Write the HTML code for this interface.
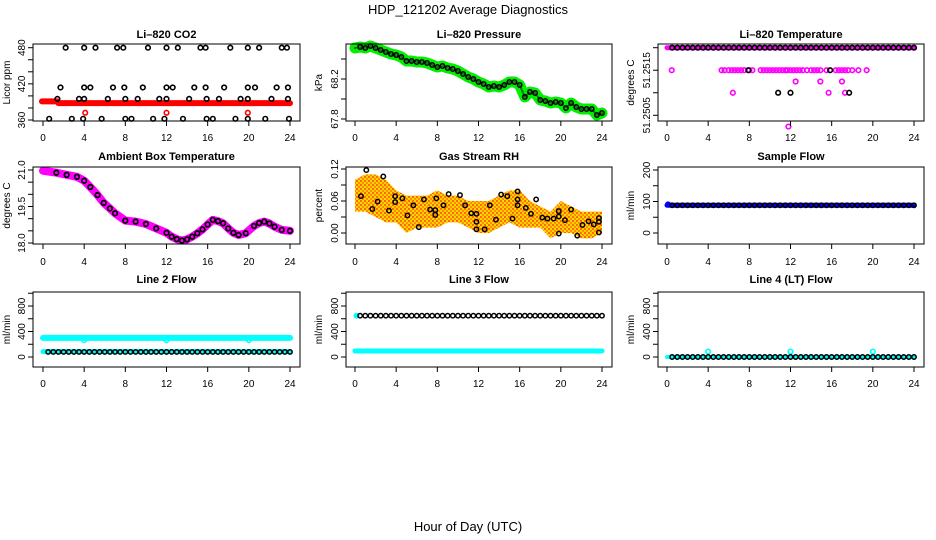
<!DOCTYPE html>
<html><head><meta charset="utf-8">
<style>
html,body{margin:0;padding:0;background:#fff;}
svg{display:block;font-family:"Liberation Sans",Arial,sans-serif;}
.tk{font-size:10px;fill:#000;}
.ttl{font-size:11px;font-weight:bold;fill:#000;}
</style></head>
<body>
<svg id="chart" width="936" height="540" viewBox="0 0 936 540" xmlns="http://www.w3.org/2000/svg">
<rect width="936" height="540" fill="#fff"/>
<text x="468" y="14" text-anchor="middle" font-size="13">HDP_121202  Average Diagnostics</text>
<text x="468" y="531" text-anchor="middle" font-size="13">Hour of Day (UTC)</text>
</svg>
<script>
// ---------- data ----------
var circleHours = [0.5,1,1.5,2,2.5,3,3.5,4,4.5,5,5.5,6,6.5,7,7.5,8,8.5,9,9.5,10,10.5,11,11.5,12,12.5,13,13.5,14,14.5,15,15.5,16,16.5,17,17.5,18,18.5,19,19.5,20,20.5,21,21.5,22,22.5,23,23.5,24];
var fullSpan = [0,24];

// CO2
var co2TopHours = [2.2,4.0,5.1,7.2,7.8,10.2,12.0,13.1,15.3,15.8,18.2,19.9,21.0,23.2,23.7];
var co2HighHours = [1.7,4.0,4.6,6.8,7.9,9.7,12.0,12.6,14.7,15.8,17.6,19.9,20.6,22.7,23.8];
var co2MidHours = [1.4,3.5,4.0,6.3,8.0,9.2,11.3,12.0,14.2,15.9,17.1,19.2,19.9,22.2,23.8];
var co2LowHours = [0.6,2.8,3.9,5.7,8.0,8.6,10.7,11.8,13.6,15.9,16.5,18.7,19.9,21.6,23.9];
var co2Levels = [480,414,395,362];
var co2RedBandHours = [-0.1,1.4,1.5,24];
var co2RedBandValues = [391,391,388,388];
var co2RedDotHours = [4.1,12.0,19.9];
var co2RedDotValue = 372;

// Pressure
var presHours = [0,0.5,1,1.5,2,2.5,3,3.5,4,4.5,5,5.5,6,6.5,7,7.5,8,8.5,9,9.5,10,10.5,11,11.5,12,12.5,13,13.5,14,14.5,15,15.5,16,16.5,17,17.5,18,18.5,19,19.5,20,20.5,21,21.5,22,22.5,23,23.5,24];
var presValues = [68.51,68.52,68.51,68.53,68.51,68.49,68.47,68.45,68.44,68.42,68.38,68.38,68.37,68.37,68.36,68.34,68.32,68.33,68.31,68.30,68.28,68.25,68.22,68.20,68.17,68.15,68.12,68.13,68.12,68.14,68.17,68.17,68.14,68.02,68.07,68.06,67.99,67.98,67.96,67.97,67.96,67.91,67.96,67.92,67.90,67.90,67.90,67.84,67.86];

// Li-820 temperature
var ltTopValue = 51.252;
var ltMagHours = [0.46,5.3,5.6,5.99,6.3,6.6,6.9,7.2,7.5,8.0,8.3,9.1,9.4,9.7,10.0,10.3,10.6,10.9,11.2,11.5,11.7,12.0,12.3,12.6,12.9,13.2,13.6,14.0,14.3,14.6,14.9,15.5,16.4,16.7,17.0,17.3,17.6,18.0,18.6,19.4,12.5,14.9,17.0,6.4,15.7,17.3,11.8];
var ltMagValues = [51.2515,51.2515,51.2515,51.2515,51.2515,51.2515,51.2515,51.2515,51.2515,51.2515,51.2515,51.2515,51.2515,51.2515,51.2515,51.2515,51.2515,51.2515,51.2515,51.2515,51.2515,51.2515,51.2515,51.2515,51.2515,51.2515,51.2515,51.2515,51.2515,51.2515,51.2515,51.2515,51.2515,51.2515,51.2515,51.2515,51.2515,51.2515,51.2515,51.2515,51.25125,51.25125,51.25125,51.251,51.251,51.251,51.25025];
var ltBlackHours = [7.9,15.85,10.8,12.0,17.7];
var ltBlackValues = [51.2515,51.2515,51.251,51.251,51.251];

// Ambient box temperature
var ambHours = [0,1.3,2.3,3.3,4,4.6,5.3,5.9,6.5,7,8,9,10,11,12,12.5,13,13.5,14,14.5,15,15.5,16,16.5,17,17.5,18,18.5,19,19.7,20.5,21,21.5,22,22.5,23.2,24];
var ambValues = [20.97,20.89,20.8,20.72,20.56,20.3,19.97,19.65,19.42,19.22,18.92,18.88,18.78,18.6,18.42,18.26,18.16,18.1,18.15,18.26,18.4,18.56,18.76,18.95,18.9,18.81,18.6,18.42,18.33,18.4,18.7,18.82,18.88,18.8,18.67,18.54,18.5];

// Gas stream RH
var rhBandHours = [0,1,2,3,4,5,6,7,8,9,10,11,12,13,14,15,16,17,18,19,20,21,22,23,24];
var rhUpper = [0.10,0.11,0.11,0.10,0.08,0.07,0.07,0.07,0.08,0.07,0.07,0.06,0.06,0.06,0.07,0.08,0.08,0.06,0.05,0.04,0.06,0.05,0.04,0.04,0.04];
var rhLower = [0.04,0.04,0.03,0.02,0.02,0.00,0.01,0.01,0.01,0.02,0.02,0.01,0.00,0.00,0.01,0.02,0.01,0.01,0.01,-0.01,0.00,0.00,-0.01,-0.01,0.00];
var rhDotHours = [0.58,1.1,1.68,2.2,2.75,3.3,3.9,3.9,4.6,5.1,5.67,6.2,6.7,7.3,7.8,7.8,7.9,8.6,9.1,10.2,10.7,11.3,11.8,11.8,11.8,12.6,13.1,13.7,14.2,14.8,15.3,15.8,15.8,15.8,16.6,17.1,17.6,18.2,18.7,19.3,19.8,19.8,19.8,20.4,21.0,21.6,22.1,22.7,23.2,23.7,23.7,23.7];
var rhDotValues = [0.069,0.118,0.045,0.059,0.106,0.042,0.069,0.058,0.065,0.033,0.052,0.011,0.063,0.044,0.043,0.034,0.065,0.052,0.073,0.071,0.052,0.037,0.036,0.021,0.007,0.007,0.052,0.025,0.072,0.069,0.027,0.078,0.063,0.052,0.047,0.036,0.063,0.029,0.027,0.027,0.041,0.031,-0.001,0.024,0.044,-0.005,0.015,0.022,0.016,0.028,0.021,0.001];

// Flows
var sampleFlowValue = 88;
var sampleFlowStart = 91;
var line2Upper = 300;
var line2DipHours = [4,12,20];
var line2DipValue = 265;
var line2Lower = 85;
var line3Black = 648;
var line3Cyan = 95;
var line4Base = 0;
var line4SpikeHours = [4,12,20];
var line4SpikeValue = 85;

// ---------- rendering ----------
var NS = 'http://www.w3.org/2000/svg';
var svg = document.getElementById('chart');
var cols = [{l:33,r:300,h0:43,h24:290,lab:10},{l:346,r:612,h0:355,h24:602,lab:322},{l:658,r:924,h0:667,h24:914,lab:634}];
var rows = [{t:44,b:121,title:38,xl:141},{t:167,b:244,title:160,xl:265},{t:292,b:367,title:283,xl:387}];
function mk(tag, attrs, parent){ var e=document.createElementNS(NS,tag); for(var k in attrs) e.setAttribute(k,attrs[k]); (parent||svg).appendChild(e); return e; }

function panel(ci, ri, name, title, ylab, v1, y1, v2, y2, ticks, labels, fmt){
  var c=cols[ci], r=rows[ri];
  var g=mk('g',{});
  
  
  var p={g:g,
    x:function(h){return c.h0+(c.h24-c.h0)*h/24;},
    y:function(v){return y1+(v-v1)*(y2-y1)/(v2-v1);}};
  var plot=mk('g',{},g);
  
  
  p.plot=plot;
  var axes=mk('g',{},g);
  // box
  var box=mk('rect',{x:c.l,y:r.t,width:c.r-c.l,height:r.b-r.t,fill:'none',stroke:'#000','stroke-width':1},axes);
  
  
  // title
  var t=mk('text',{x:(c.l+c.r)/2,y:r.title,'text-anchor':'middle','class':'ttl'},axes); t.textContent=title;
  
  
  // x axis
  var xa=mk('g',{},axes);
  
  
  mk('line',{x1:p.x(0),x2:p.x(24),y1:r.b,y2:r.b,stroke:'#000'},xa);
  for(var h=0;h<=24;h+=4){
    mk('line',{x1:p.x(h),x2:p.x(h),y1:r.b,y2:r.b+5,stroke:'#000'},xa);
    var tl=mk('text',{x:p.x(h),y:r.xl,'text-anchor':'middle','class':'tk'},xa); tl.textContent=h;
  }
  // y axis
  var ya=mk('g',{},axes);
  
  
  mk('line',{x1:c.l,x2:c.l,y1:p.y(ticks[0]),y2:p.y(ticks[ticks.length-1]),stroke:'#000'},ya);
  ticks.forEach(function(v){ mk('line',{x1:c.l-5,x2:c.l,y1:p.y(v),y2:p.y(v),stroke:'#000'},ya); });
  labels.forEach(function(v){
    var yy=p.y(v), xx=c.l-8;
    var tt=mk('text',{x:xx,y:yy,'text-anchor':'middle',transform:'rotate(-90 '+xx+' '+yy+')','class':'tk'},ya);
    tt.textContent=fmt(v);
  });
  var yt=mk('text',{x:c.lab,y:(r.t+r.b)/2,'text-anchor':'middle','font-size':'10px',transform:'rotate(-90 '+c.lab+' '+((r.t+r.b)/2)+')'},ya);
  yt.textContent=ylab;
  
  
  return p;
}
function circ(p,h,v,col,rad,sw){ return mk('circle',{cx:p.x(h),cy:p.y(v),r:rad||2.3,fill:'none',stroke:col,'stroke-width':sw||1.6},p.plot); }
function dot(p,h,v,col,rad){ return mk('circle',{cx:p.x(h),cy:p.y(v),r:rad||2.5,fill:col},p.plot); }
function band(p,hs,vs,col,w){ return mk('polyline',{points:hs.map(function(h,i){return p.x(h)+','+p.y(vs[i]);}).join(' '),fill:'none',stroke:col,'stroke-width':w,'stroke-linejoin':'round','stroke-linecap':'round'},p.plot); }
function rng(a,b,s){var o=[];for(var v=a;v<=b+1e-9;v+=s)o.push(+v.toFixed(6));return o;}
var f1=function(v){return String(v);};

// Panel 1: CO2
var p1=panel(0,0,'co2-panel','Li\u2013820 CO2','Licor ppm',480,47.7,360,120,rng(360,480,20),[360,420,480],f1);
band(p1,co2RedBandHours,co2RedBandValues,'#ff0000',6);
[co2TopHours,co2HighHours,co2MidHours,co2LowHours].forEach(function(hs,i){ hs.forEach(function(h){ circ(p1,h,co2Levels[i],'#000'); }); });
co2RedDotHours.forEach(function(h){ circ(p1,h,co2RedDotValue,'#ff0000'); });

// Panel 2: Pressure
var p2=panel(1,0,'pressure-panel','Li\u2013820 Pressure','kPa',67.8,119,68.2,79,[67.8,68.0,68.2,68.4],[67.8,68.2],function(v){return v.toFixed(1);});
band(p2,presHours,presValues,'#00ee00',11);
band(p2,presHours,presValues,'#1a6a1a',2).setAttribute('stroke-dasharray','1 2');
presHours.forEach(function(h,i){ if(h>0) circ(p2,h,presValues[i],'#000',2.2,1.5); });

// Panel 3: Li-820 Temperature
var p3=panel(2,0,'li820-temp-panel','Li\u2013820 Temperature','degrees C',51.252,47.7,51.2505,115.3,[51.2505,51.251,51.2515,51.252],[51.2505,51.2515],function(v){return v.toFixed(4);});
band(p3,fullSpan,[ltTopValue,ltTopValue],'#ff00ff',5);
ltMagHours.forEach(function(h,i){ circ(p3,h,ltMagValues[i],'#ff00ff'); });
circleHours.forEach(function(h){ circ(p3,h,ltTopValue,'#000'); });
ltBlackHours.forEach(function(h,i){ circ(p3,h,ltBlackValues[i],'#000'); });

// Panel 4: Ambient box temperature
var p4=panel(0,1,'ambient-temp-panel','Ambient Box Temperature','degrees C',21,170,18,243,rng(18,21,0.5),[18,19.5,21],function(v){return v.toFixed(1);});
band(p4,ambHours,ambValues,'#ff00ff',8);
ambHours.forEach(function(h,i){ if(h>0.2) circ(p4,h,ambValues[i],'#000',2.3,1.7); });

// Panel 5: RH
var p5=panel(1,1,'rh-panel','Gas Stream RH','percent',0.12,169,0,233,rng(0,0.12,0.03),[0,0.06,0.12],function(v){return v.toFixed(2);});
var pts=rhBandHours.map(function(h,i){return p5.x(h)+','+p5.y(rhUpper[i]);}).concat(rhBandHours.slice().reverse().map(function(h,i){var j=rhBandHours.length-1-i;return p5.x(h)+','+p5.y(rhLower[j]);}));
var defs=mk('defs',{});
var pat=mk('pattern',{id:'rhpat',width:4,height:4,patternUnits:'userSpaceOnUse'},defs);
mk('rect',{width:4,height:4,fill:'#ffd400'},pat);
mk('rect',{x:0,y:0,width:2,height:2,fill:'#ff6a00'},pat);
mk('rect',{x:2,y:2,width:2,height:2,fill:'#ff8c00'},pat);
var rhb=mk('polygon',{points:pts.join(' '),fill:'url(#rhpat)'},p5.plot);
rhDotHours.forEach(function(h,i){ circ(p5,h,rhDotValues[i],'#000',2.2,1.5); });

// Panel 6: Sample flow
var p6=panel(2,1,'sample-flow-panel','Sample Flow','ml/min',0,233,200,170,rng(0,200,50),[0,100,200],f1);
band(p6,fullSpan,[sampleFlowValue,sampleFlowValue],'#0000ff',5);
dot(p6,0.1,sampleFlowStart,'#0000ff',3);
circleHours.forEach(function(h){ circ(p6,h,sampleFlowValue,'#000',2.2,1.5); });

// Panel 7: Line 2 flow
var p7=panel(0,2,'line2-flow-panel','Line 2 Flow','ml/min',0,357,800,306,rng(0,1000,200),[0,400,800],f1);
band(p7,fullSpan,[line2Upper,line2Upper],'#00ffff',6);
line2DipHours.forEach(function(h){ circ(p7,h,line2DipValue,'#00ffff'); });
band(p7,fullSpan,[line2Lower,line2Lower],'#00ffff',5);
circleHours.forEach(function(h){ circ(p7,h,line2Lower-5,'#000',2.2,1.5); });

// Panel 8: Line 3 flow
var p8=panel(1,2,'line3-flow-panel','Line 3 Flow','ml/min',0,357,800,306,rng(0,1000,200),[0,400,800],f1);
band(p8,fullSpan,[line3Cyan,line3Cyan],'#00ffff',5);
dot(p8,0.15,line3Black,'#00ffff',3);
circleHours.forEach(function(h){ circ(p8,h,line3Black,'#000',2.2,1.5); });

// Panel 9: Line 4 flow
var p9=panel(2,2,'line4-flow-panel','Line 4 (LT) Flow','ml/min',0,357,800,306,rng(0,1000,200),[0,400,800],f1);
band(p9,fullSpan,[line4Base,line4Base],'#00ffff',4);
line4SpikeHours.forEach(function(h){ circ(p9,h,line4SpikeValue,'#00ffff'); });
circleHours.forEach(function(h){ circ(p9,h,line4Base,'#000',2.2,1.5); });
</script>
</body></html>
